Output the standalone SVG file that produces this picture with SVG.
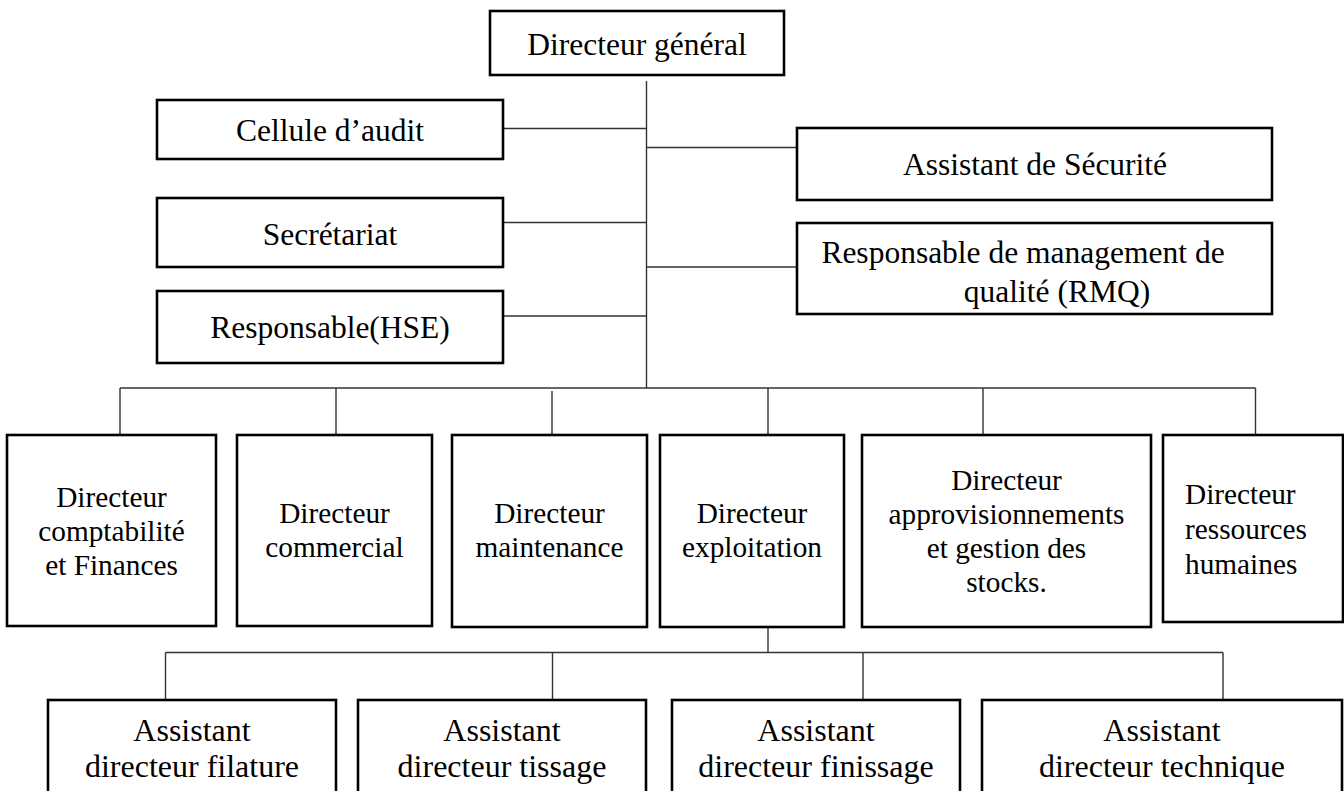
<svg xmlns="http://www.w3.org/2000/svg" width="1344" height="791" viewBox="0 0 1344 791">
  <style>
    .box { fill: #ffffff; stroke: #000000; stroke-width: 2.6; }
    .wire { fill: none; stroke: #333333; stroke-width: 1.4; }
    text { font-family: "Liberation Serif", "Times New Roman", serif; fill: #000000; }
    .t1 { font-size: 31.5px; text-anchor: middle; }
    .t2 { font-size: 29.3px; text-anchor: middle; }
    .t3 { font-size: 32px; text-anchor: middle; }
  </style>
  <rect width="1344" height="791" fill="#ffffff"/>

  <!-- connectors -->
  <g id="connectors" class="wire">
    <!-- main trunk -->
    <path d="M646.5 81 V388"/>
    <!-- staff links -->
    <path d="M503 128.5 H646.5"/>
    <path d="M646.5 147.5 H797"/>
    <path d="M503 222.5 H646.5"/>
    <path d="M646.5 267 H797"/>
    <path d="M503 316 H646.5"/>
    <!-- directors bus -->
    <path d="M120 388 H1255.5"/>
    <path d="M120 388 V435"/>
    <path d="M336 388 V435"/>
    <path d="M552 391 V435"/>
    <path d="M768 388 V435"/>
    <path d="M983 388 V435"/>
    <path d="M1255.5 388 V435"/>
    <!-- assistants bus -->
    <path d="M768 627 V652.5"/>
    <path d="M165.5 652.5 H1223"/>
    <path d="M165.5 652.5 V700"/>
    <path d="M552.5 652.5 V700"/>
    <path d="M863 652.5 V700"/>
    <path d="M1223 652.5 V700"/>
  </g>

  <g id="directeur-general">
    <rect class="box" x="490" y="11" width="294" height="64"/>
    <text class="t1" x="637" y="55">Directeur général</text>
  </g>

  <g id="cellule-audit">
    <rect class="box" x="157" y="100" width="346" height="59"/>
    <text class="t1" x="330" y="141">Cellule d’audit</text>
  </g>

  <g id="secretariat">
    <rect class="box" x="157" y="198" width="346" height="69"/>
    <text class="t1" x="330" y="245">Secrétariat</text>
  </g>

  <g id="responsable-hse">
    <rect class="box" x="157" y="291" width="346" height="72"/>
    <text class="t1" x="330" y="338">Responsable(HSE)</text>
  </g>

  <g id="assistant-securite">
    <rect class="box" x="797" y="128" width="475" height="72"/>
    <text class="t1" x="1035" y="175">Assistant de Sécurité</text>
  </g>

  <g id="responsable-rmq">
    <rect class="box" x="797" y="223" width="475" height="91"/>
    <text class="t1" x="1023" y="263">Responsable de management de</text>
    <text class="t1" x="1057" y="302">qualité (RMQ)</text>
  </g>

  <g id="dir-comptabilite">
    <rect class="box" x="7" y="435" width="209" height="191"/>
    <text class="t2" x="111.5" y="507">Directeur</text>
    <text class="t2" x="111.5" y="541">comptabilité</text>
    <text class="t2" x="111.5" y="575">et Finances</text>
  </g>

  <g id="dir-commercial">
    <rect class="box" x="237" y="435" width="195" height="191"/>
    <text class="t2" x="334.5" y="523">Directeur</text>
    <text class="t2" x="334.5" y="557">commercial</text>
  </g>

  <g id="dir-maintenance">
    <rect class="box" x="452" y="435" width="195" height="192"/>
    <text class="t2" x="549.5" y="523">Directeur</text>
    <text class="t2" x="549.5" y="557">maintenance</text>
  </g>

  <g id="dir-exploitation">
    <rect class="box" x="660" y="435" width="184" height="192"/>
    <text class="t2" x="752" y="523">Directeur</text>
    <text class="t2" x="752" y="557">exploitation</text>
  </g>

  <g id="dir-approvisionnements">
    <rect class="box" x="862" y="435" width="289" height="192"/>
    <text class="t2" x="1006.5" y="490">Directeur</text>
    <text class="t2" x="1006.5" y="524">approvisionnements</text>
    <text class="t2" x="1006.5" y="558">et gestion des</text>
    <text class="t2" x="1006.5" y="592">stocks.</text>
  </g>

  <g id="dir-ressources-humaines">
    <rect class="box" x="1163" y="435" width="180" height="187"/>
    <text font-size="29.3" x="1185" y="504">Directeur</text>
    <text font-size="29.3" x="1185" y="539">ressources</text>
    <text font-size="29.3" x="1185" y="574">humaines</text>
  </g>

  <g id="assistant-filature">
    <rect class="box" x="48" y="700" width="288" height="110"/>
    <text class="t3" x="192" y="741">Assistant</text>
    <text class="t3" x="192" y="777">directeur filature</text>
  </g>

  <g id="assistant-tissage">
    <rect class="box" x="358" y="700" width="288" height="110"/>
    <text class="t3" x="502" y="741">Assistant</text>
    <text class="t3" x="502" y="777">directeur tissage</text>
  </g>

  <g id="assistant-finissage">
    <rect class="box" x="672" y="700" width="288" height="110"/>
    <text class="t3" x="816" y="741">Assistant</text>
    <text class="t3" x="816" y="777">directeur finissage</text>
  </g>

  <g id="assistant-technique">
    <rect class="box" x="982" y="700" width="360" height="110"/>
    <text class="t3" x="1162" y="741">Assistant</text>
    <text class="t3" x="1162" y="777">directeur technique</text>
  </g>
</svg>
